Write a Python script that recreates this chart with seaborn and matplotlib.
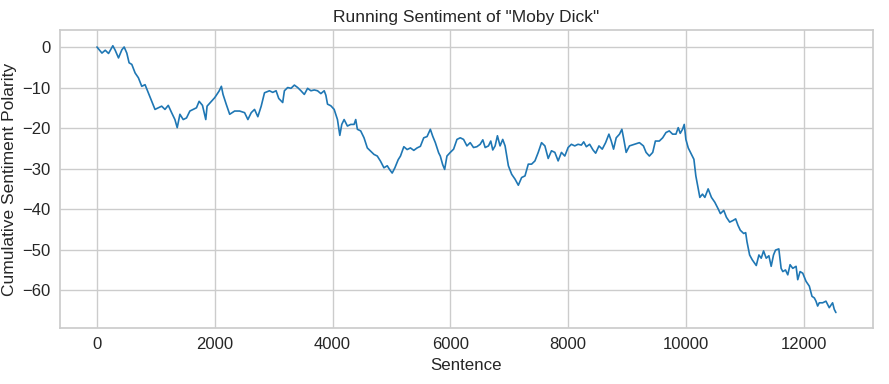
import matplotlib
matplotlib.use("Agg")
import matplotlib.pyplot as plt
import seaborn as sns
import pandas as pd

sentence = [0, 85, 141, 197, 270, 310, 366, 423, 462, 507, 546, 592, 648, 704, 761, 817, 873, 930, 986, 1042,
            1099, 1155, 1211, 1268, 1324, 1363, 1409, 1465, 1521, 1578, 1634, 1690, 1735, 1792, 1848, 1870, 1944,
            2000, 2073, 2113, 2141, 2197, 2254, 2338, 2423, 2507, 2563, 2620, 2676, 2732, 2789, 2845,
            2929, 2985, 3042, 3087, 3154, 3183, 3239, 3295, 3352, 3408, 3464, 3521, 3577, 3633, 3690, 3746, 3802,
            3859, 3887, 3915, 3971, 4028, 4084, 4124, 4157, 4197, 4253, 4309, 4366, 4394, 4422, 4478, 4535, 4591,
            4647, 4704, 4760, 4816, 4873, 4929, 4968, 5013, 5059, 5115, 5154, 5211, 5267, 5323, 5380, 5436, 5492,
            5549, 5605, 5661, 5701, 5746, 5802, 5830, 5870, 5904, 5943,
            6000, 6056, 6113, 6169, 6225, 6282, 6338, 6394, 6451, 6507, 6552, 6592, 6648, 6687, 6721, 6761, 6800,
            6845, 6890, 6930, 6986, 7042, 7099, 7155, 7211, 7268, 7324, 7380, 7437, 7493, 7549, 7606, 7662, 7718,
            7775, 7831, 7887, 7944, 8000, 8056, 8113, 8169, 8225, 8265, 8310, 8366, 8423, 8468, 8524, 8580, 8637,
            8693, 8733, 8772, 8817, 8873, 8913, 8941, 8986,
            9042, 9127, 9211, 9279, 9324, 9380, 9437, 9482, 9549, 9606, 9662, 9718, 9774, 9831, 9870, 9904, 9943,
            9972,
            10000, 10040, 10096, 10136, 10169, 10209, 10237, 10282, 10322, 10378, 10434, 10491, 10547, 10586,
            10643, 10688, 10744, 10800, 10845, 10885, 10924, 10981, 11015, 11037, 11082, 11127, 11195, 11240,
            11279, 11319, 11364, 11409, 11448, 11488, 11522, 11578, 11617, 11646, 11691, 11730, 11769, 11815,
            11871, 11899, 11939, 11984, 12040, 12096, 12141, 12181, 12209, 12237, 12265, 12322, 12378, 12434,
            12491, 12519, 12547]

polarity = [0, -1.5, -0.8, -1.6, 0.3, -0.8, -2.7, -0.7, 0, -1.5, -3.9, -4.3, -6.4, -7.6, -9.7, -9.3, -11.3, -13.4,
            -15.4, -15, -14.6, -15.4, -14.4, -16.2, -17.9, -19.9, -16.6, -17.9, -17.5, -15.8, -15.4, -15, -13.4,
            -14.4, -17.9, -14.6, -13.4, -12.5, -10.9, -9.7, -11.7, -14.2, -16.6, -15.8, -15.8, -16.2, -17.9, -16.2,
            -15.4, -17.2, -14.6, -11.3,
            -10.8, -11.2, -10.8, -12.7, -13.7, -10.8, -10, -10.2, -9.4, -10, -10.8, -11.7, -10.2, -10.8, -10.6,
            -10.8, -11.5, -10.8, -11.9, -14.1, -14.5, -15.4, -17.9, -21.8, -19.1, -17.9, -19.5, -19.1, -19.1,
            -17.9, -20.3, -20.7, -22.4, -24.9, -25.7, -26.5, -26.9, -28.2, -29.8, -29.3, -30.2, -31.1, -29.8,
            -27.8, -26.9, -24.6, -25.3, -24.9, -25.5, -24.9, -24.5, -22.4, -22.1, -20.3, -22, -23.6, -26.1, -26.9,
            -29, -30.2, -26.9,
            -26, -25.2, -22.8, -22.4, -22.8, -24.4, -23.6, -24.8, -24.6, -24, -22.9, -24.8, -24.4, -23.2, -25.4,
            -24.4, -21.9, -24.4, -22.8, -24.4, -29.3, -31.4, -32.6, -34.1, -32.2, -31.8, -28.9, -28.9, -28.1, -26,
            -23.6, -24.4, -27.5, -25.6, -26, -28.1, -26, -26.9, -24.8, -24, -24.4, -24, -24.2, -23.4, -24.6, -24,
            -25.4, -26.2, -24.4, -25.2, -23.6, -21.5, -23.2, -25.2, -22.4, -21.5, -20.3, -22.4, -26,
            -24.4, -24, -23.6, -24.4, -26, -26.9, -26, -23.2, -23.2, -22.4, -21.1, -20.7, -21.5, -21.5, -19.9,
            -21.3, -20.3, -19.1,
            -22.8, -24.9, -26.5, -27.7, -31.8, -35, -37.1, -36.3, -37.1, -35, -37.1, -38.3, -39.9, -41.1, -40.3,
            -42, -43.2, -42.8, -42.4, -44, -45.2, -46, -45.8, -48, -51.3, -52.5, -53.9, -51.3, -52.1, -50.3, -52.1,
            -51.5, -54.1, -51.3, -50.1, -49.8, -54.6, -55.4, -55, -56.2, -53.7, -54.6, -54.1, -57.4, -55.4, -55.8,
            -57.8, -59, -61.5, -61.9, -62.7, -63.9, -63.1, -63.1, -62.7, -64.3, -63.1, -64.7, -65.5]

x_ticks = [0, 2000, 4000, 6000, 8000, 10000, 12000]
y_ticks = [0, -10, -20, -30, -40, -50, -60]

sns.set_theme(style="whitegrid")
plt.rcParams['font.family'] = ['Liberation Sans', 'DejaVu Sans']

df = pd.DataFrame({"Sentence": sentence, "Cumulative Sentiment Polarity": polarity})

fig, ax = plt.subplots(figsize=(8.89, 3.84), dpi=100)
sns.lineplot(data=df, x="Sentence", y="Cumulative Sentiment Polarity", ax=ax, color="#1f77b4", linewidth=1.2)
ax.set_title('Running Sentiment of "Moby Dick"', fontsize=12.5)
ax.set_xlabel("Sentence", fontsize=12.2)
ax.set_ylabel("Cumulative Sentiment Polarity", fontsize=12.5)
ax.yaxis.set_label_coords(-0.053, 0.5)
ax.tick_params(axis='both', labelsize=12, length=0)
ax.tick_params(axis='y', pad=7)
ax.tick_params(axis='x', pad=6.5)
ax.set_xticks(x_ticks)
ax.set_yticks(y_ticks)
ax.set_xlim(-627, 13177)
ax.set_ylim(-69.3, 4.2)
fig.subplots_adjust(left=0.0675, right=0.982, top=0.922, bottom=0.146)
fig.savefig("out.png", dpi=100)
